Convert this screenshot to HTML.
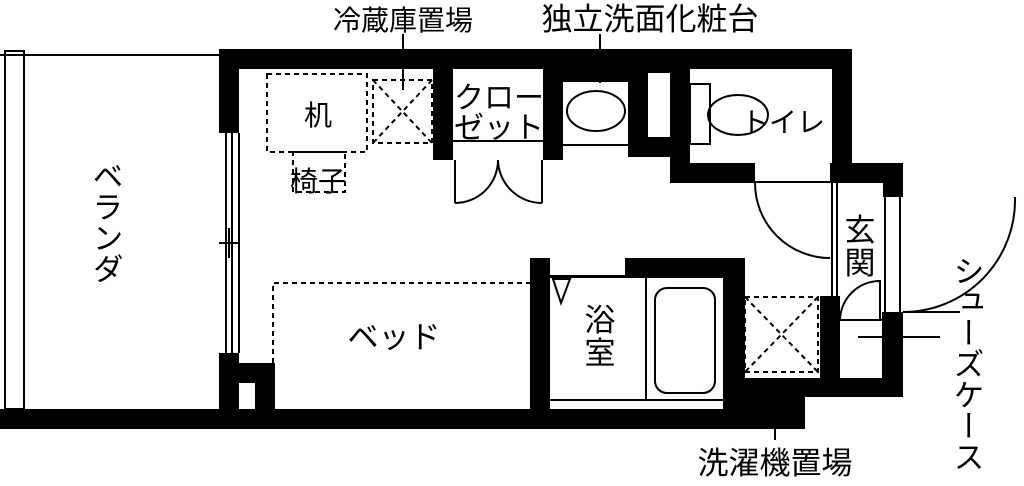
<!DOCTYPE html>
<html><head><meta charset="utf-8"><style>
html,body{margin:0;padding:0;background:#fff;width:1024px;height:486px;overflow:hidden}
text{font-family:"Liberation Sans","Noto Sans CJK JP",sans-serif;fill:#000}
</style></head><body>
<svg width="1024" height="486" viewBox="0 0 1024 486" xmlns="http://www.w3.org/2000/svg">
<g fill="#000">
<rect x="219" y="49" width="633" height="20"/>
<rect x="563" y="69" width="65" height="13"/>
<rect x="219" y="49" width="20" height="84"/>
<rect x="219" y="353" width="20" height="60"/>
<rect x="239" y="363" width="36" height="46"/>
<rect x="0" y="409" width="805" height="20"/>
<rect x="433" y="69" width="20" height="91"/>
<rect x="543" y="69" width="20" height="91"/>
<rect x="628" y="69" width="62" height="88"/>
<rect x="670" y="69" width="20" height="114"/>
<rect x="832" y="49" width="20" height="134"/>
<rect x="670" y="163" width="85" height="20"/>
<rect x="830" y="163" width="73" height="20"/>
<rect x="883" y="163" width="20" height="34"/>
<rect x="882" y="312" width="21" height="85"/>
<rect x="743" y="378" width="160" height="19"/>
<rect x="743" y="397" width="62" height="20"/>
<rect x="820" y="296" width="20" height="82"/>
<rect x="530" y="258" width="20" height="151"/>
<rect x="530" y="258" width="215" height="20"/>
<rect x="723" y="258" width="22" height="151"/>
</g>
<g fill="#fff">
<rect x="648" y="73" width="22" height="64"/>
<rect x="239" y="383" width="16" height="26"/>
<rect x="550" y="258" width="75" height="17"/>
</g>
<g stroke="#000" fill="none" stroke-width="2">
<line x1="0" y1="55" x2="219" y2="55"/>
<rect x="5" y="51" width="19" height="358"/>
<line x1="226" y1="133" x2="226" y2="353"/>
<line x1="232" y1="133" x2="232" y2="353"/>
<line x1="239" y1="133" x2="239" y2="353"/>
<line x1="219" y1="243" x2="238" y2="243"/>
<line x1="229" y1="228" x2="229" y2="258"/>
<line x1="453" y1="141" x2="543" y2="141"/>
<line x1="455" y1="160" x2="455" y2="203"/>
<line x1="542" y1="160" x2="542" y2="203"/>
<path d="M455,203 A43,43 0 0 0 498,160"/>
<path d="M542,203 A44,44 0 0 1 498,160"/>
<line x1="563" y1="145" x2="628" y2="145"/>
<ellipse cx="596" cy="111" rx="29" ry="20"/>
<rect x="690" y="84" width="20" height="60"/>
<ellipse cx="738" cy="115" rx="30" ry="20"/>
<line x1="755" y1="182" x2="830" y2="182"/>
<path d="M755,183 A75,75 0 0 0 830,258"/>
<line x1="832" y1="183" x2="832" y2="296"/>
<line x1="837" y1="183" x2="837" y2="296"/>
<line x1="885" y1="197" x2="885" y2="312"/>
<line x1="900" y1="197" x2="900" y2="312"/>
<path d="M1015,197 A112,112 0 0 1 903,312"/>
<line x1="903" y1="312" x2="960" y2="312"/>
<path d="M840,320 A40,40 0 0 1 880,281 L880,320"/>
<line x1="840" y1="320" x2="883" y2="320"/>
<line x1="858" y1="337" x2="940" y2="337"/>
<line x1="550" y1="276" x2="625" y2="276"/>
<line x1="550" y1="400" x2="723" y2="400"/>
<line x1="646" y1="278" x2="646" y2="400"/>
<rect x="655" y="288" width="60" height="105" rx="12"/>
<path d="M553,279 L570,279 L561,303 Z"/>
<line x1="403" y1="34" x2="403" y2="90"/>
<line x1="600" y1="34" x2="600" y2="83"/>
<line x1="775" y1="415" x2="775" y2="440"/>
</g>
<g stroke="#000" fill="none" stroke-width="2" stroke-dasharray="5,4">
<rect x="267" y="74" width="100" height="78"/>
<rect x="373" y="80" width="59" height="63"/>
<line x1="373" y1="80" x2="432" y2="143"/>
<line x1="432" y1="80" x2="373" y2="143"/>
<rect x="293" y="152" width="52" height="40"/>
<path d="M273,363 L273,283 L530,283"/>
<rect x="745" y="297" width="73" height="75"/>
<line x1="745" y1="297" x2="818" y2="372"/>
<line x1="818" y1="297" x2="745" y2="372"/>
</g>
<g font-size="28">
<text x="403" y="30" text-anchor="middle">冷蔵庫置場</text>
<text x="318" y="125" text-anchor="middle">机</text>
<text x="318" y="191" text-anchor="middle">椅子</text>
<text x="783" y="132" text-anchor="middle">トイレ</text>
</g>
<g font-size="31">
<text x="650" y="30" text-anchor="middle">独立洗面化粧台</text>
<text x="775" y="474" text-anchor="middle">洗濯機置場</text>
<text x="499" y="108" text-anchor="middle" font-size="30">クロー</text>
<text x="499" y="138" text-anchor="middle" font-size="30">ゼット</text>
<text x="394" y="348" text-anchor="middle">ベッド</text>
<text x="600" y="331" text-anchor="middle">浴</text>
<text x="600" y="364" text-anchor="middle">室</text>
<text x="860" y="241" text-anchor="middle">玄</text>
<text x="860" y="274" text-anchor="middle">関</text>
</g>
<g font-size="31">
<text x="105" y="160" style="writing-mode:tb">ベランダ</text>
<text x="966" y="255" style="writing-mode:tb">シューズケース</text>
</g>
</svg>
</body></html>
